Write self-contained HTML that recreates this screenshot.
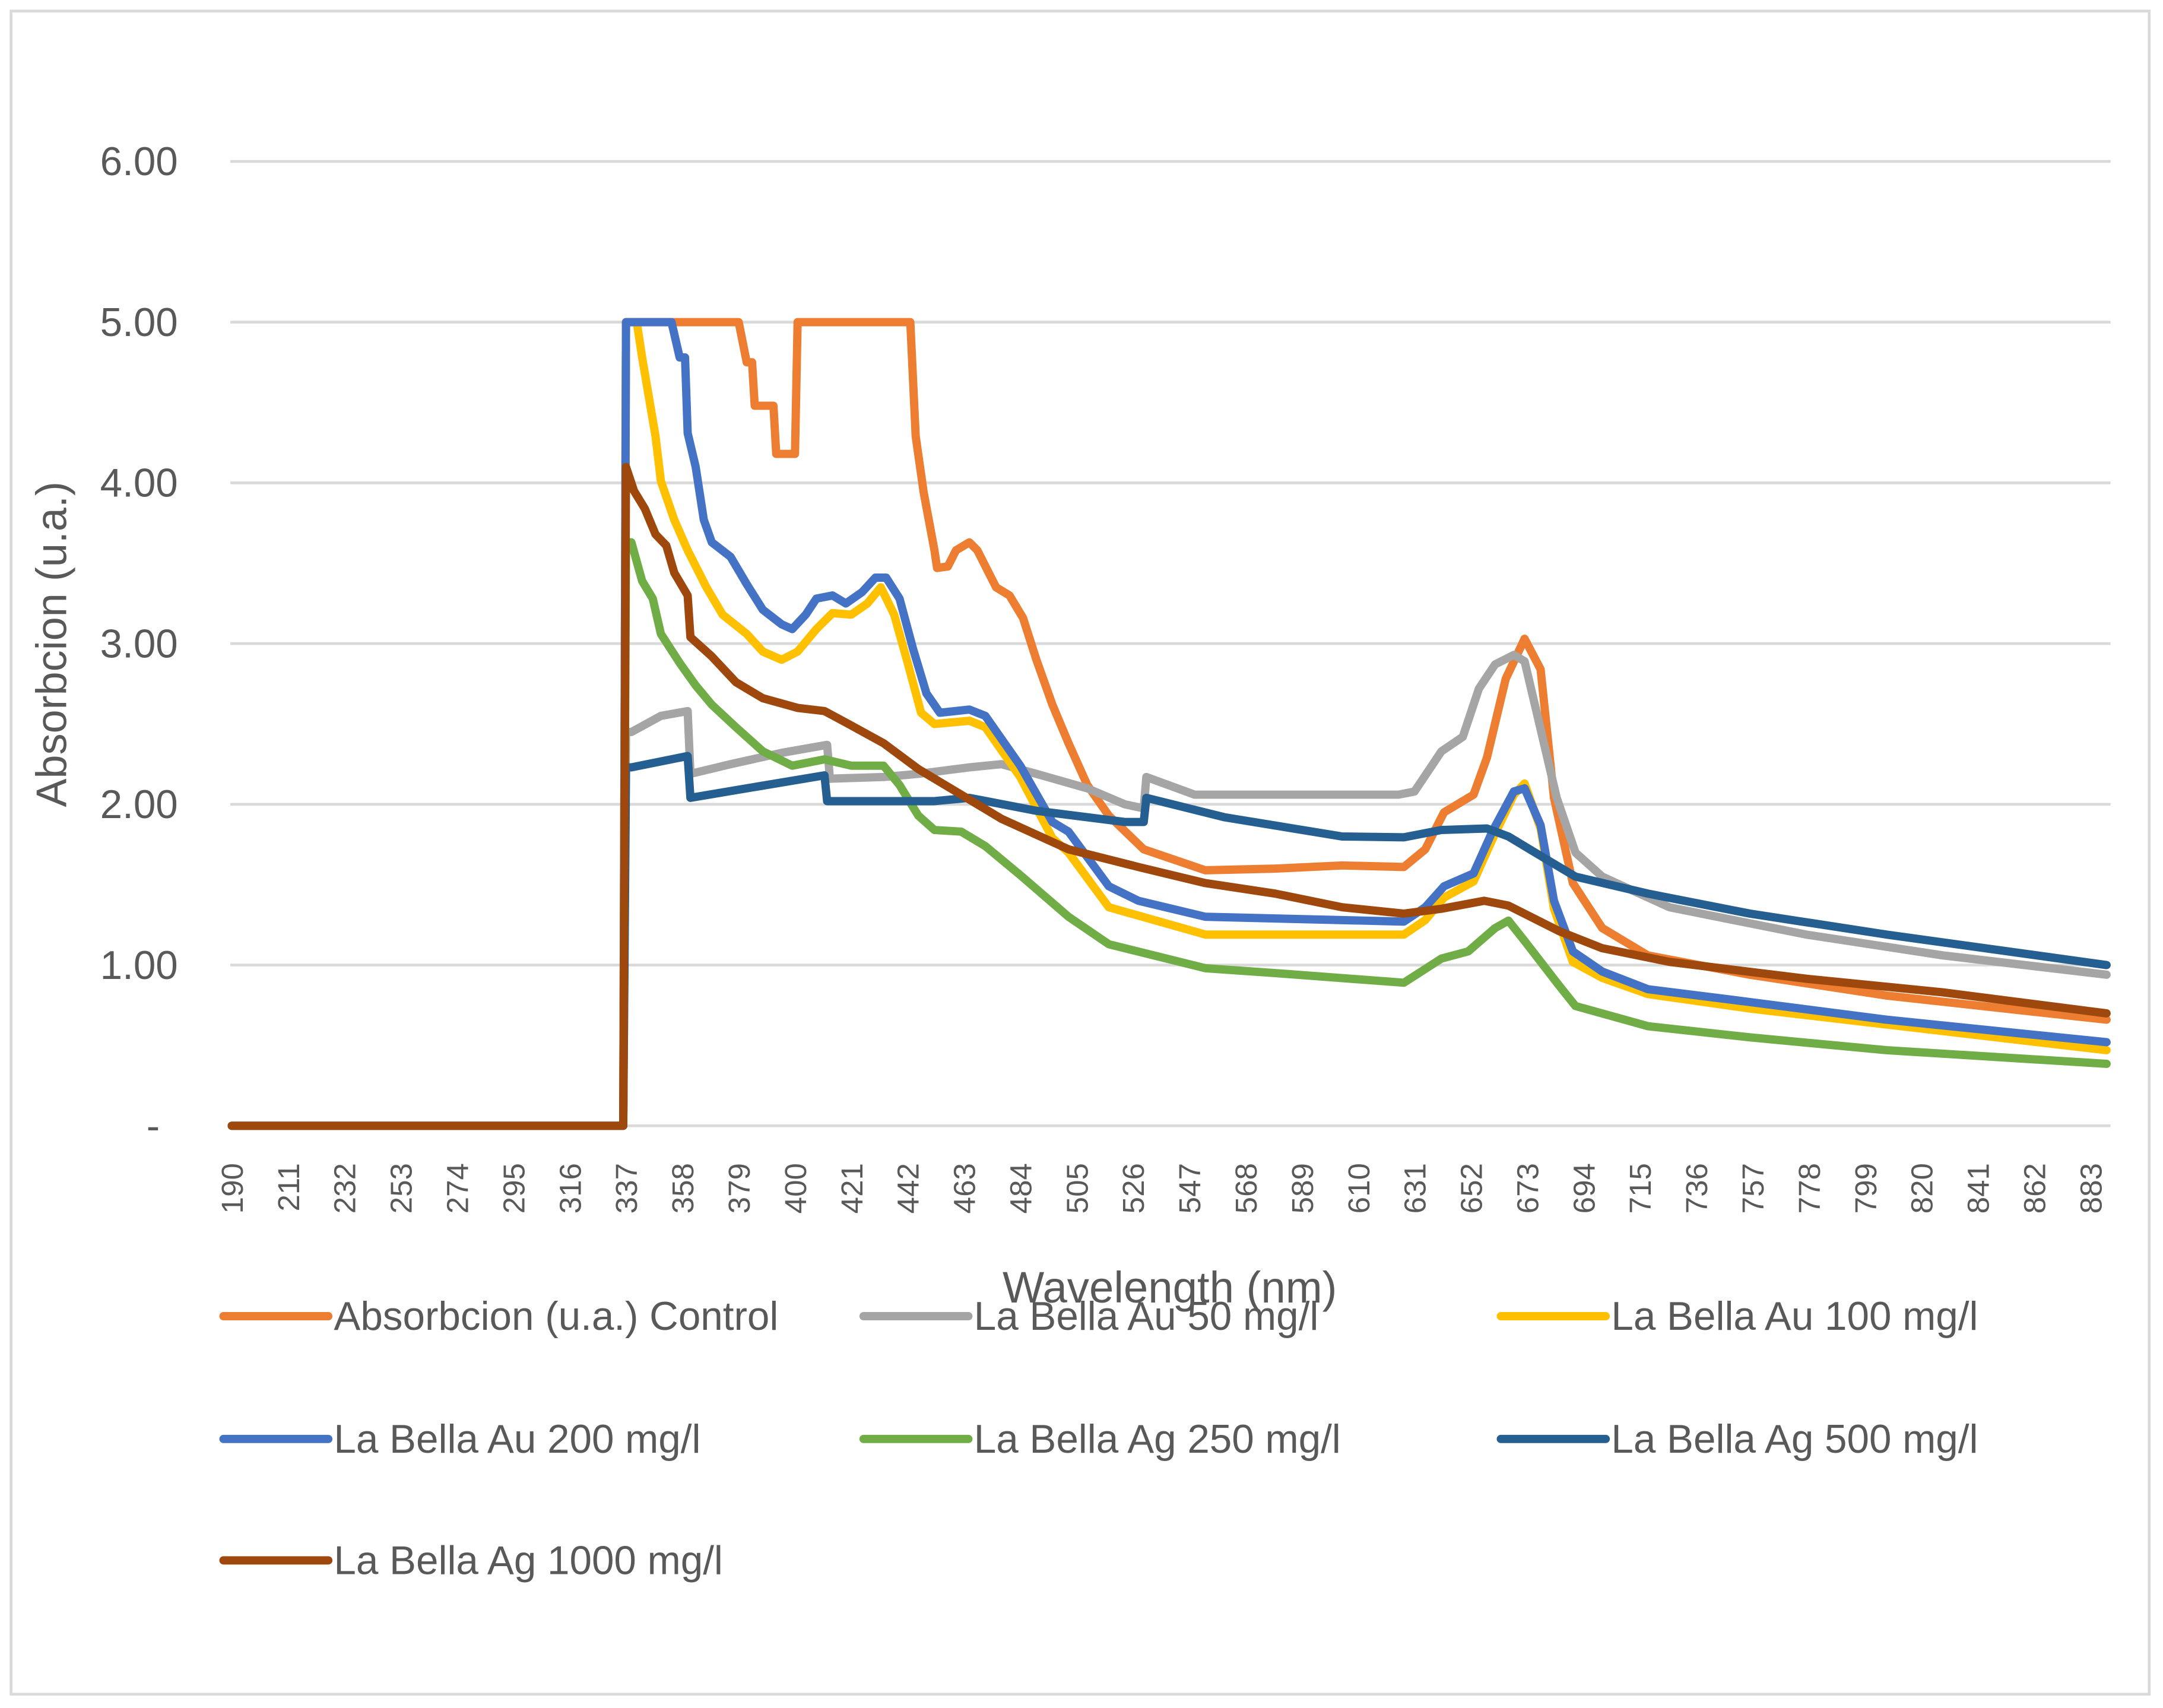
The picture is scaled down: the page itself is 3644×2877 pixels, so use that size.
<!DOCTYPE html>
<html><head><meta charset="utf-8"><style>
html,body{margin:0;padding:0;background:#fff;}
svg{display:block;}
text{font-family:"Liberation Sans",sans-serif;fill:#595959;}
</style></head><body>
<svg id="chart" width="3644" height="2877" viewBox="0 0 1568 1238" preserveAspectRatio="none" xmlns="http://www.w3.org/2000/svg">
<rect x="8" y="8" width="1550" height="1220" fill="#fff" stroke="#D9D9D9" stroke-width="2"/>
<g id="grid"></g>
<g id="yticks"></g>
<g id="xticks"></g>
<g id="series"></g>
<text x="0" y="0" transform="translate(48,467) rotate(-90)" text-anchor="middle" font-size="31">Absorbcion (u.a.)</text>
<text x="848" y="944" text-anchor="middle" font-size="32">Wavelength (nm)</text>
<g id="legend"></g>
</svg>
<script>
const yTickValues = [0, 1, 2, 3, 4, 5, 6];
const yTickLabels = ["-", "1.00", "2.00", "3.00", "4.00", "5.00", "6.00"];
const xTickLabels = [190,211,232,253,274,295,316,337,358,379,400,421,442,463,484,505,526,547,568,589,610,631,652,673,694,715,736,757,778,799,820,841,862,883];
const seriesNames = ["Absorbcion (u.a.) Control","La Bella Au 50 mg/l","La Bella Au 100 mg/l","La Bella Au 200 mg/l","La Bella Ag 250 mg/l","La Bella Ag 500 mg/l","La Bella Ag 1000 mg/l"];
const seriesColors = ["#ED7D31","#A5A5A5","#FFC000","#4472C4","#70AD47","#255E91","#9E480E"];

const controlWl = [190,336,337,379,382,384,385,392,393,400,401,443,445,448,452,453,457,460,465,468,475,480,485,490,496,502,509,517,530,553,579,604,627,635,642,653,658,665,672,678,683,690,701,718,756,807,889];
const controlVal = [0,0,5,5,4.75,4.75,4.48,4.48,4.18,4.18,5,5,4.29,3.94,3.58,3.47,3.48,3.58,3.63,3.58,3.35,3.30,3.16,2.90,2.62,2.38,2.12,1.93,1.72,1.59,1.60,1.62,1.61,1.72,1.95,2.06,2.29,2.78,3.03,2.84,2.04,1.51,1.23,1.06,0.94,0.81,0.66];
const au50Wl = [190,336,337,339,350,360,361,376,395,412,413,433,446,465,477,490,509,523,530,531,549,625,631,641,649,655,661,668,672,676,684,691,701,726,777,828,889];
const au50Val = [0,0,2.45,2.45,2.55,2.58,2.19,2.25,2.32,2.37,2.16,2.17,2.19,2.23,2.25,2.19,2.10,2.00,1.975,2.17,2.06,2.06,2.08,2.33,2.42,2.72,2.87,2.93,2.89,2.61,2.04,1.70,1.55,1.36,1.19,1.06,0.94];
const au100Wl = [190,336,337,341,343,348,350,355,360,367,373,382,388,395,401,408,414,421,427,432,437,442,447,452,465,471,484,496,502,517,553,627,635,642,653,660,668,672,678,683,690,701,718,756,807,889];
const au100Val = [0,0,5,5,4.78,4.29,4.01,3.77,3.58,3.35,3.18,3.06,2.95,2.90,2.95,3.09,3.19,3.18,3.25,3.35,3.18,2.88,2.57,2.50,2.52,2.48,2.17,1.79,1.70,1.36,1.19,1.19,1.28,1.42,1.52,1.78,2.06,2.13,1.85,1.35,1.02,0.92,0.82,0.73,0.63,0.47];
const au200Wl = [190,336,337,354,357,359,360,363,366,369,376,382,388,395,399,404,408,414,419,425,430,434,439,444,449,454,465,471,484,496,502,517,528,553,627,635,642,653,660,668,672,678,683,690,701,718,756,807,889];
const au200Val = [0,0,5,5,4.78,4.78,4.31,4.10,3.77,3.63,3.54,3.37,3.21,3.12,3.09,3.18,3.28,3.30,3.25,3.32,3.41,3.41,3.28,2.97,2.69,2.57,2.59,2.55,2.24,1.89,1.83,1.49,1.40,1.30,1.27,1.36,1.49,1.57,1.83,2.08,2.10,1.87,1.40,1.085,0.96,0.85,0.77,0.66,0.52];
const ag250Wl = [190,336,337,339,343,347,350,357,363,369,378,388,399,411,421,433,439,446,452,462,471,484,502,517,553,579,627,641,651,661,666,672,685,691,718,756,807,889];
const ag250Val = [0,0,3.63,3.63,3.39,3.28,3.06,2.88,2.74,2.62,2.48,2.33,2.24,2.28,2.24,2.24,2.12,1.93,1.84,1.83,1.74,1.56,1.30,1.13,0.98,0.95,0.89,1.04,1.085,1.23,1.276,1.15,0.87,0.745,0.62,0.55,0.47,0.385];
const ag500Wl = [190,336,337,339,360,361,382,411,412,452,465,490,523,530,531,560,604,627,641,658,666,676,691,718,756,807,889];
const ag500Val = [0,0,2.23,2.23,2.30,2.04,2.10,2.18,2.02,2.02,2.04,1.96,1.89,1.89,2.04,1.92,1.80,1.795,1.84,1.85,1.80,1.70,1.55,1.445,1.32,1.19,1.00];
const ag1000Wl = [190,336,337,340,344,348,352,355,360,361,369,378,388,401,411,420,433,446,458,477,502,528,553,579,604,627,641,657,666,685,701,726,777,828,889];
const ag1000Val = [0,0,4.10,3.95,3.84,3.68,3.61,3.44,3.30,3.04,2.92,2.76,2.66,2.60,2.58,2.50,2.38,2.22,2.10,1.91,1.72,1.61,1.51,1.445,1.36,1.32,1.35,1.40,1.37,1.21,1.105,1.02,0.915,0.83,0.70];

const NS = "http://www.w3.org/2000/svg";
const plotLeft = 167, plotRight = 1530, firstCat = 190, lastCat = 890;
const catW = (plotRight - plotLeft) / (lastCat - firstCat + 1);
function xScale(nm) { return plotLeft + (nm - firstCat + 0.5) * catW; }
function yScale(v) { return 816 - v * 116.5; }

const grid = document.getElementById('grid');
yTickValues.forEach((v, i) => {
  const ln = document.createElementNS(NS, 'line');
  ln.setAttribute('x1', plotLeft); ln.setAttribute('x2', plotRight);
  ln.setAttribute('y1', yScale(v)); ln.setAttribute('y2', yScale(v));
  ln.setAttribute('stroke', '#D9D9D9'); ln.setAttribute('stroke-width', '2');
  
  
  grid.appendChild(ln);
  const t = document.createElementNS(NS, 'text');
  t.setAttribute('x', v === 0 ? 111 : 129); t.setAttribute('y', yScale(v) + 10);
  t.setAttribute('text-anchor', v === 0 ? 'middle' : 'end'); t.setAttribute('font-size', '29');
  t.textContent = yTickLabels[i];
  
  
  document.getElementById('yticks').appendChild(t);
});

xTickLabels.forEach(nm => {
  const t = document.createElementNS(NS, 'text');
  const x = xScale(nm) + 8, y = 843;
  t.setAttribute('x', x); t.setAttribute('y', y);
  t.setAttribute('transform', 'rotate(-90 ' + x + ' ' + y + ')');
  t.setAttribute('text-anchor', 'end'); t.setAttribute('font-size', '22');
  t.textContent = String(nm);
  
  
  document.getElementById('xticks').appendChild(t);
});

const allWl = [controlWl, au50Wl, au100Wl, au200Wl, ag250Wl, ag500Wl, ag1000Wl];
const allVal = [controlVal, au50Val, au100Val, au200Val, ag250Val, ag500Val, ag1000Val];
const seriesG = document.getElementById('series');
allWl.forEach((wl, s) => {
  const vals = allVal[s];
  let d = '';
  wl.forEach((nm, i) => { d += (i ? 'L' : 'M') + xScale(nm).toFixed(1) + ',' + yScale(vals[i]).toFixed(1); });
  const p = document.createElementNS(NS, 'path');
  p.setAttribute('d', d);
  p.setAttribute('fill', 'none');
  p.setAttribute('stroke', seriesColors[s]);
  p.setAttribute('stroke-width', '6');
  p.setAttribute('stroke-linejoin', 'round');
  p.setAttribute('stroke-linecap', 'round');
  
  
  seriesG.appendChild(p);
});

const legend = document.getElementById('legend');
const legX = [162, 626, 1088];
const legY = [954, 1043, 1131];
seriesNames.forEach((name, i) => {
  const x = legX[i % 3], y = legY[Math.floor(i / 3)];
  const g = document.createElementNS(NS, 'g');
  
  
  const ln = document.createElementNS(NS, 'line');
  ln.setAttribute('x1', x); ln.setAttribute('x2', x + 76);
  ln.setAttribute('y1', y); ln.setAttribute('y2', y);
  ln.setAttribute('stroke', seriesColors[i]); ln.setAttribute('stroke-width', '6');
  ln.setAttribute('stroke-linecap', 'round');
  g.appendChild(ln);
  const t = document.createElementNS(NS, 'text');
  t.setAttribute('x', x + 80); t.setAttribute('y', y + 10);
  t.setAttribute('font-size', '29');
  t.textContent = name;
  g.appendChild(t);
  legend.appendChild(g);
});
</script>
</body></html>
